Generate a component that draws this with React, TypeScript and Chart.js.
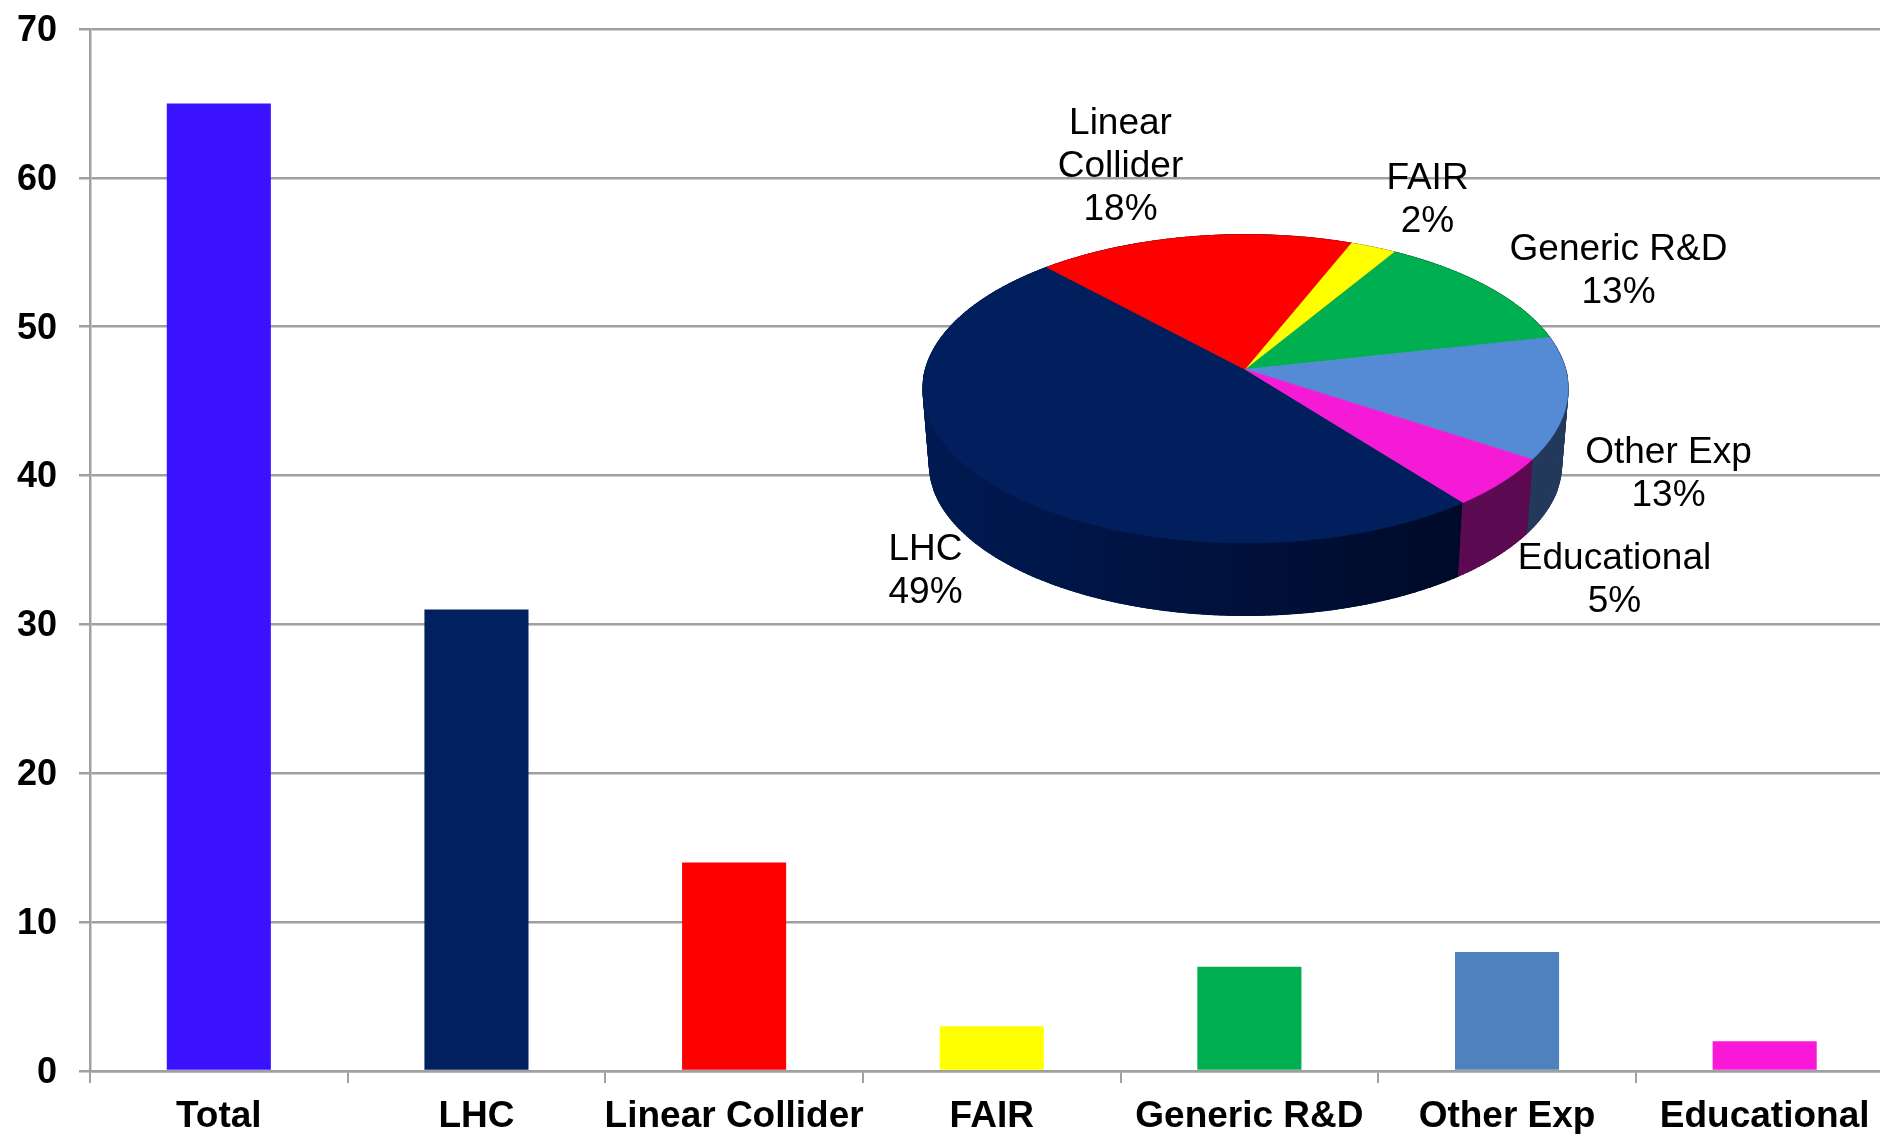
import React, { useEffect, useRef } from "react";
import { Chart, registerables } from "chart.js";

Chart.register(...registerables);

const categories = ["Total", "LHC", "Linear Collider", "FAIR", "Generic R&D", "Other Exp", "Educational"];
const barValues = [65, 31, 14, 3, 7, 8, 2];
const barColors = ["#3a12ff", "#002060", "#ff0000", "#ffff00", "#00b050", "#4f81bd", "#fb19d9"];

const pieCategories = ["LHC", "Linear Collider", "FAIR", "Generic R&D", "Other Exp", "Educational"];
const pieValues = [48.7, 17.9, 2.6, 12.9, 12.8, 5.2];
const piePercentLabels = ["49%", "18%", "2%", "13%", "13%", "5%"];
const pieTopColors = ["#001f5c", "#ff0000", "#ffff00", "#00b050", "#558bd4", "#f51ad5"];
const pieSideColors = ["#00103a", "#7f0000", "#7f7f00", "#005828", "#233a5c", "#5c0a52"];

const CANVAS_W = 1900;
const CANVAS_H = 1134;
const FONT = '"Liberation Sans", Arial, sans-serif';
const AXIS = "#a0a0a0";

// 3D view of the pie
const PERSPECTIVE = 0.125;
const SQUASH = 0.474;
const BASE_SCALE = 0.98;
const BASE_DROP = 76;

// where each pie label's block is centred, relative to the pie apex
const labelOffsets: [number, number][] = [
  [-320, 202],
  [-125, -203],
  [182, -169],
  [373, -98],
  [423, 105],
  [369, 211],
];
const labelLines = [["LHC"], ["Linear", "Collider"], ["FAIR"], ["Generic R&D"], ["Other Exp"], ["Educational"]];

const pie3d = {
  id: "pie3d",
  beforeDatasetsDraw(chart: any) {
    const ctx: CanvasRenderingContext2D = chart.ctx;
    const arcs = chart.getDatasetMeta(0).data;
    const cx = arcs[0].x;
    const cy = arcs[0].y;
    const R = arcs[0].outerRadius;

    const project = (angle: number, base: boolean) => {
      const u = Math.cos(angle);
      const v = Math.sin(angle);
      const w = 1 - PERSPECTIVE * v;
      const s = base ? BASE_SCALE : 1;
      return [cx + (s * R * u) / w, cy + (base ? BASE_DROP : 0) + (s * SQUASH * R * v) / w];
    };
    const sweep = (a0: number, a1: number) => {
      const n = Math.max(2, Math.ceil(((a1 - a0) * 180) / Math.PI));
      const out: number[] = [];
      for (let i = 0; i <= n; i++) out.push(a0 + ((a1 - a0) * i) / n);
      return out;
    };
    const paint = (style: any, width = 0.8) => {
      ctx.fillStyle = style;
      ctx.strokeStyle = style;
      ctx.lineWidth = width;
      ctx.fill();
      ctx.stroke();
    };

    ctx.save();
    const gradient = ctx.createLinearGradient(cx - R, 0, cx + 0.68 * R, 0);
    gradient.addColorStop(0, "#001a52");
    gradient.addColorStop(0.55, "#00113c");
    gradient.addColorStop(1, "#000a28");
    arcs.forEach((arc: any, i: number) => {
      const angles = sweep(arc.startAngle, arc.endAngle);
      const style: any = i === 0 ? gradient : pieSideColors[i];
      // the whole band first, so that the strips below leave no seams
      ctx.beginPath();
      angles.forEach((a, j) => {
        const p = project(a, false);
        if (j === 0) ctx.moveTo(p[0], p[1]);
        else ctx.lineTo(p[0], p[1]);
      });
      angles.slice().reverse().forEach((a) => {
        const p = project(a, true);
        ctx.lineTo(p[0], p[1]);
      });
      ctx.closePath();
      paint(style);
      for (let j = 0; j + 1 < angles.length; j++) {
        const t0 = project(angles[j], false);
        const t1 = project(angles[j + 1], false);
        const b1 = project(angles[j + 1], true);
        const b0 = project(angles[j], true);
        ctx.beginPath();
        ctx.moveTo(t0[0], t0[1]);
        ctx.lineTo(t1[0], t1[1]);
        ctx.lineTo(b1[0], b1[1]);
        ctx.lineTo(b0[0], b0[1]);
        ctx.closePath();
        paint(style, 1.2);
      }
    });
    arcs.forEach((arc: any, i: number) => {
      ctx.beginPath();
      ctx.moveTo(cx, cy);
      sweep(arc.startAngle, arc.endAngle).forEach((a) => {
        const p = project(a, false);
        ctx.lineTo(p[0], p[1]);
      });
      ctx.closePath();
      paint(pieTopColors[i]);
    });

    ctx.fillStyle = "#000";
    ctx.font = `37px ${FONT}`;
    ctx.textAlign = "center";
    ctx.textBaseline = "middle";
    const lineH = 43;
    pieCategories.forEach((_, i) => {
      const lines = [...labelLines[i], piePercentLabels[i]];
      const top = cy + labelOffsets[i][1] - ((lines.length - 1) * lineH) / 2;
      lines.forEach((t, j) => ctx.fillText(t, cx + labelOffsets[i][0], top + j * lineH));
    });
    ctx.restore();
    return false;
  },
};

export default function App() {
  const barRef = useRef<HTMLCanvasElement>(null);
  const pieRef = useRef<HTMLCanvasElement>(null);

  useEffect(() => {
    const bar = new Chart(barRef.current!, {
      type: "bar",
      data: {
        labels: categories,
        datasets: [{ data: barValues, backgroundColor: barColors, barPercentage: 0.404, categoryPercentage: 1 }],
      },
      options: {
        responsive: false,
        animation: false,
        devicePixelRatio: 1,
        layout: { padding: { top: 29, right: CANVAS_W - 1893.5, left: 0, bottom: 0 } },
        plugins: { legend: { display: false }, tooltip: { enabled: false } },
        scales: {
          x: {
            afterFit: (s: any) => { s.height = 63; },
            grid: { offset: true, drawOnChartArea: false, drawTicks: true, tickLength: 12, color: AXIS, lineWidth: 2 },
            border: { color: AXIS, width: 2.5 },
            ticks: {
              autoSkip: false, maxRotation: 0, minRotation: 0, padding: 12, color: "#000",
              font: { family: FONT, size: 37, weight: "bold" },
            },
          },
          y: {
            min: 0, max: 70,
            afterFit: (s: any) => { s.width = 90; s.paddingTop = 0; s.paddingBottom = 0; },
            grid: { tickLength: 11, color: AXIS, lineWidth: 2.5 },
            border: { color: AXIS, width: 2.5 },
            ticks: {
              stepSize: 10, padding: 22, color: "#000", labelOffset: 2,
              font: { family: FONT, size: 36, weight: "bold" },
            },
          },
        },
      } as any,
    });

    const pie = new Chart(pieRef.current!, {
      type: "pie",
      data: {
        labels: pieCategories,
        datasets: [{ data: pieValues, backgroundColor: pieTopColors, borderWidth: 0 }],
      },
      options: {
        responsive: false,
        animation: false,
        devicePixelRatio: 1,
        rotation: 142.2,
        layout: { padding: { left: 925.5, right: CANVAS_W - 1565.5, top: 49.5, bottom: CANVAS_H - 689.5 } },
        plugins: { legend: { display: false }, tooltip: { enabled: false } },
      } as any,
      plugins: [pie3d],
    });

    return () => {
      bar.destroy();
      pie.destroy();
    };
  }, []);

  const canvasStyle: React.CSSProperties = { position: "absolute", left: 0, top: 0, display: "block" };
  return (
    <div style={{ position: "fixed", left: 0, top: 0, width: 1880, height: 1134, overflow: "hidden", background: "#fff" }}>
      <canvas ref={barRef} width={CANVAS_W} height={CANVAS_H} style={canvasStyle} />
      <canvas ref={pieRef} width={CANVAS_W} height={CANVAS_H} style={canvasStyle} />
    </div>
  );
}
